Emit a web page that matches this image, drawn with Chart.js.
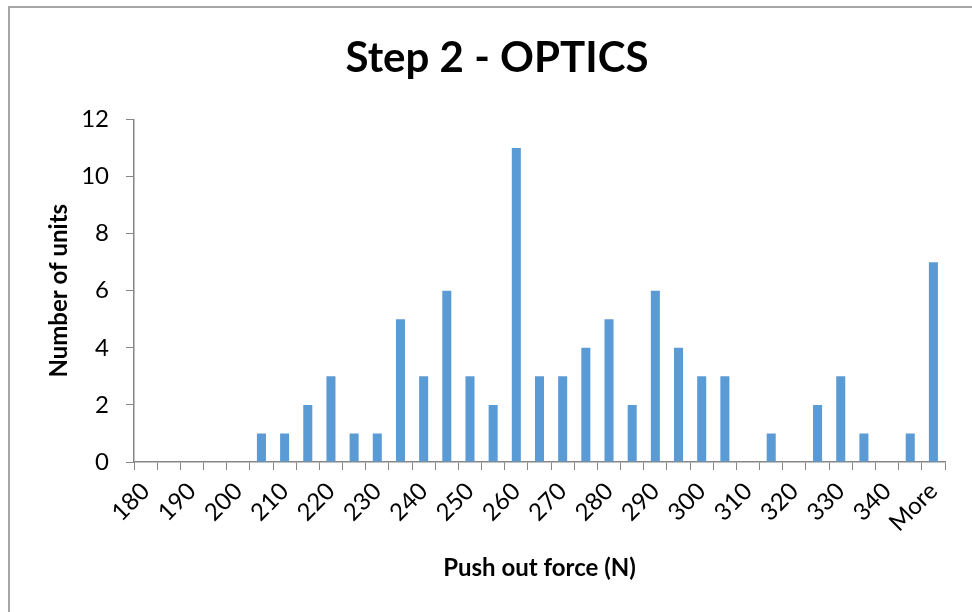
<!DOCTYPE html>
<html>
<head>
<meta charset="utf-8">
<script src="https://cdn.jsdelivr.net/npm/chart.js@4.4.1/dist/chart.umd.min.js"></script>
<style>
  html, body { margin: 0; padding: 0; background: #fff; }
  #wrap { position: relative; width: 972px; height: 612px; overflow: hidden; }
  #frame { position: absolute; left: 8px; top: 6px; width: 1000px; height: 700px;
           border-left: 2px solid #a6a6a6; border-top: 2px solid #a6a6a6; }
  canvas { position: absolute; left: 0; top: 0; }
</style>
</head>
<body>
<div id="wrap">
  <div id="frame"></div>
  <canvas id="histChart" width="972" height="612"></canvas>
</div>
<script>
const bins = ['180','185','190','195','200','205','210','215','220','225','230','235',
  '240','245','250','255','260','265','270','275','280','285','290','295','300','305',
  '310','315','320','325','330','335','340','345','More'];
const counts = [0,0,0,0,0,1,1,2,3,1,1,5,
  3,6,3,2,11,3,3,4,5,2,6,4,3,3,
  0,1,0,2,3,1,0,1,7];
const yTicks = [0,2,4,6,8,10,12];

const fontFamily = 'Lato, "Open Sans", sans-serif';
const axisGray = '#868686';

const ctx = document.getElementById('histChart').getContext('2d');
new Chart(ctx, {
  type: 'bar',
  data: {
    labels: bins,
    datasets: [{
      label: 'Number of units',
      data: counts,
      backgroundColor: '#5B9BD5',
      barPercentage: 0.39,
      categoryPercentage: 1.0
    }]
  },
  options: {
    responsive: false,
    animation: false,
    layout: { padding: { left: 49, right: 27, top: 0, bottom: 0 } },
    plugins: {
      legend: { display: false },
      tooltip: { enabled: false },
      title: {
        display: true,
        text: 'Step 2 - OPTICS',
        color: '#000',
        font: { family: fontFamily, size: 42, weight: 'bold' },
        padding: { top: 33, bottom: 36 }
      }
    },
    scales: {
      x: {
        afterFit: s => { s.height = 150; },
        grid: { display: true, drawOnChartArea: false, drawTicks: true, tickLength: 8, color: axisGray, offset: true },
        border: { display: true, color: axisGray, width: 1.5 },
        ticks: {
          autoSkip: false,
          minRotation: 45,
          maxRotation: 45,
          padding: 7,
          color: '#000',
          font: { family: fontFamily, size: 24 },
          callback: (v, i) => i % 2 === 0 ? bins[i] : ''
        },
        title: {
          display: true,
          text: 'Push out force (N)',
          color: '#000',
          font: { family: fontFamily, size: 24, weight: 'bold' },
          padding: { top: 0, bottom: 29 }
        }
      },
      y: {
        min: 0,
        max: 12,
        afterFit: s => { s.width = 85; },
        afterBuildTicks: s => { s.ticks = yTicks.map(v => ({ value: v })); },
        grid: { display: true, drawOnChartArea: false, drawTicks: true, tickLength: 8, color: axisGray },
        border: { display: true, color: axisGray, width: 1.5 },
        ticks: {
          padding: 17,
          color: '#000',
          font: { family: fontFamily, size: 24 }
        },
        title: {
          display: true,
          text: 'Number of units',
          color: '#000',
          font: { family: fontFamily, size: 24, weight: 'bold' },
          padding: { top: -4, bottom: 0 }
        }
      }
    }
  }
});
</script>
</body>
</html>
